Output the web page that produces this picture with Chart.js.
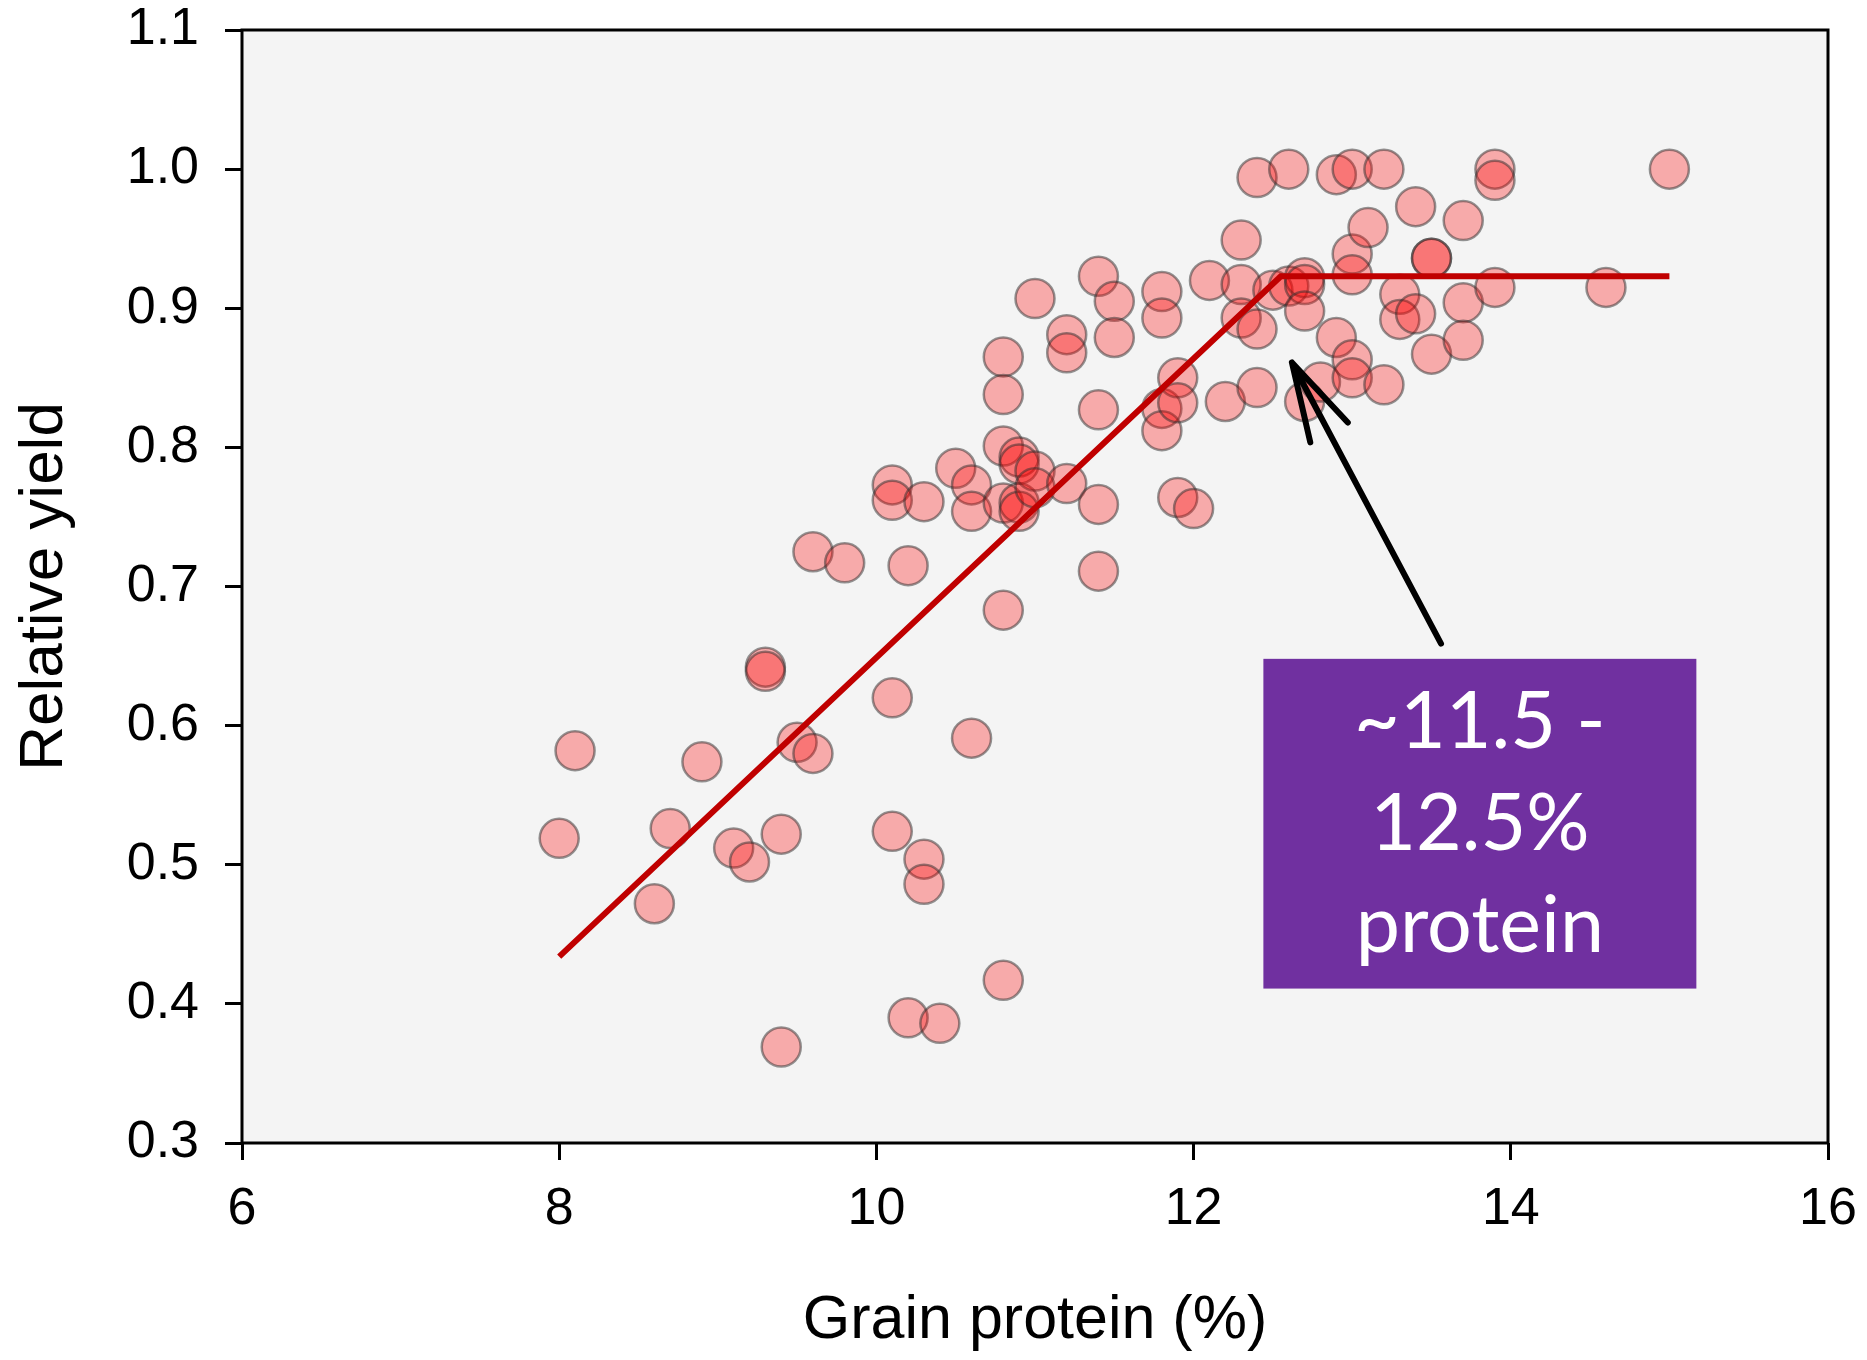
<!DOCTYPE html>
<html>
<head>
<meta charset="utf-8">
<title>Relative yield vs grain protein</title>
<script src="https://cdn.jsdelivr.net/npm/chart.js@4.4.1/dist/chart.umd.min.js"></script>
<style>
  html, body { margin: 0; padding: 0; background: #ffffff; }
  #wrap { width: 1867px; height: 1360px; }
</style>
</head>
<body>
<div id="wrap"><canvas id="yieldChart" width="1867" height="1360"></canvas></div>
<script>
// ===============================
//     DATOS
// ===============================
const proteinX = [
  8.0, 8.1, 8.6, 8.7, 8.9, 9.1, 9.2, 9.3, 9.3, 9.4,
  9.5, 9.6, 9.4, 9.6, 9.8, 10.1, 10.1, 10.1, 10.1, 10.2,
  10.2, 10.3, 10.3, 10.3, 10.4, 10.5, 10.6, 10.6, 10.6, 10.8,
  10.8, 10.8, 10.8, 10.8, 10.8, 10.9, 10.9, 10.9, 10.9, 11.0,
  11.0, 11.0, 11.2, 11.2, 11.2, 11.4, 11.4, 11.4, 11.4, 11.5,
  11.5, 11.8, 11.8, 11.8, 11.8, 11.9, 11.9, 11.9, 12.0, 12.1,
  12.2, 12.3, 12.3, 12.3, 12.4, 12.4, 12.4, 12.5, 12.6, 12.6,
  12.7, 12.7, 12.7, 12.7, 12.8, 12.9, 12.9, 13.0, 13.0, 13.0,
  13.0, 13.0, 13.1, 13.2, 13.2, 13.3, 13.3, 13.4, 13.4, 13.5,
  13.5, 13.5, 13.7, 13.7, 13.7, 13.9, 13.9, 13.9, 14.6, 15.0
];
const relYield = [
  0.519, 0.582, 0.472, 0.526, 0.574, 0.512, 0.502, 0.642, 0.639, 0.522,
  0.588, 0.580, 0.369, 0.725, 0.717, 0.620, 0.524, 0.773, 0.762, 0.715,
  0.390, 0.761, 0.504, 0.486, 0.386, 0.785, 0.773, 0.754, 0.591, 0.865,
  0.838, 0.801, 0.760, 0.683, 0.417, 0.793, 0.788, 0.760, 0.754, 0.907,
  0.783, 0.771, 0.881, 0.868, 0.774, 0.923, 0.827, 0.759, 0.711, 0.905,
  0.879, 0.912, 0.893, 0.828, 0.812, 0.850, 0.832, 0.764, 0.756, 0.920,
  0.833, 0.949, 0.917, 0.893, 0.994, 0.885, 0.843, 0.913, 1.000, 0.916,
  0.922, 0.917, 0.898, 0.833, 0.847, 0.996, 0.879, 1.000, 0.939, 0.924,
  0.863, 0.850, 0.958, 1.000, 0.845, 0.910, 0.892, 0.973, 0.896, 0.936,
  0.936, 0.867, 0.963, 0.904, 0.877, 1.000, 0.992, 0.915, 0.915, 1.000
];

// modelo lineal-plateau
const fitX = [8.0, 12.55, 15.0];
const fitY = [0.434, 0.923, 0.923];

// ejes
const xTicks = [6, 8, 10, 12, 14, 16];
const yTicks = [0.3, 0.4, 0.5, 0.6, 0.7, 0.8, 0.9, 1.0, 1.1];

// nota (flecha + cuadro)
const noteLines = ["~11.5 -", "12.5%", "protein"];
const arrowTip = { x: 12.62, y: 0.861 };
const arrowTail = { x: 13.56, y: 0.659 };
const noteBox = { x0: 12.44, x1: 15.17, y0: 0.648, y1: 0.411 };

const axisFont = "'Liberation Sans', Arial, sans-serif";

// ===============================
//     PLUGINS
// ===============================
const plotBackground = {
  id: "plotBackground",
  beforeDraw(chart) {
    const { ctx, chartArea: a } = chart;
    ctx.save();
    ctx.fillStyle = "#f4f4f4";
    ctx.fillRect(a.left, a.top, a.right - a.left, a.bottom - a.top);
    ctx.restore();
  }
};

const plotFrame = {
  id: "plotFrame",
  afterDatasetsDraw(chart) {
    const { ctx, chartArea: a } = chart;
    ctx.save();
    ctx.strokeStyle = "#000";
    ctx.lineWidth = 3;
    ctx.strokeRect(a.left, a.top, a.right - a.left, a.bottom - a.top);
    ctx.restore();
  }
};

const proteinNote = {
  id: "proteinNote",
  afterDraw(chart) {
    const { ctx } = chart;
    const xs = chart.scales.x, ys = chart.scales.y;

    // flecha
    const tx = xs.getPixelForValue(arrowTip.x), ty = ys.getPixelForValue(arrowTip.y);
    const sx = xs.getPixelForValue(arrowTail.x), sy = ys.getPixelForValue(arrowTail.y);
    const ang = Math.atan2(sy - ty, sx - tx);
    const head = 82, spread = 15 * Math.PI / 180;
    ctx.save();
    ctx.strokeStyle = "#000";
    ctx.lineWidth = 6;
    ctx.lineCap = "round";
    ctx.lineJoin = "round";
    ctx.beginPath();
    ctx.moveTo(sx, sy);
    ctx.lineTo(tx, ty);
    ctx.moveTo(tx + head * Math.cos(ang + spread), ty + head * Math.sin(ang + spread));
    ctx.lineTo(tx, ty);
    ctx.lineTo(tx + head * Math.cos(ang - spread), ty + head * Math.sin(ang - spread));
    ctx.stroke();

    // cuadro morado
    const bx0 = xs.getPixelForValue(noteBox.x0), bx1 = xs.getPixelForValue(noteBox.x1);
    const by0 = ys.getPixelForValue(noteBox.y0), by1 = ys.getPixelForValue(noteBox.y1);
    ctx.fillStyle = "#7030a0";
    ctx.fillRect(bx0, by0, bx1 - bx0, by1 - by0);

    ctx.fillStyle = "#ffffff";
    ctx.font = "79px Lato, 'Open Sans', sans-serif";
    ctx.textAlign = "center";
    ctx.textBaseline = "alphabetic";
    const cx = (bx0 + bx1) / 2;
    noteLines.forEach((line, i) => {
      ctx.fillText(line, cx, by0 + 89 + i * 102);
    });
    ctx.restore();
  }
};

// ===============================
//     GRAFICA
// ===============================
const ctx = document.getElementById("yieldChart").getContext("2d");

new Chart(ctx, {
  type: "scatter",
  data: {
    datasets: [
      {
        label: "Modelo",
        data: fitX.map((x, i) => ({ x, y: fitY[i] })),
        showLine: true,
        borderColor: "#c00000",
        borderWidth: 6,
        pointRadius: 0,
        fill: false,
        order: 0
      },
      {
        label: "Datos",
        data: proteinX.map((x, i) => ({ x, y: relYield[i] })),
        backgroundColor: "rgba(255, 0, 0, 0.3)",
        borderColor: "rgba(45, 45, 45, 0.5)",
        borderWidth: 2.5,
        pointRadius: 19.5,
        order: 1
      }
    ]
  },
  options: {
    responsive: false,
    animation: false,
    layout: { padding: { top: 30, right: 39, left: 0, bottom: 0 } },
    plugins: {
      legend: { display: false },
      tooltip: { enabled: false }
    },
    scales: {
      x: {
        type: "linear",
        min: 6,
        max: 16,
        afterFit(scale) {
          scale.height = 217;
          scale.paddingLeft = 0;
          scale.paddingRight = 0;
        },
        afterBuildTicks(scale) { scale.ticks = xTicks.map(v => ({ value: v })); },
        border: { display: false },
        grid: {
          drawOnChartArea: false,
          drawTicks: true,
          tickLength: 17,
          tickWidth: 3,
          tickColor: "#000"
        },
        ticks: {
          color: "#000",
          padding: 18,
          maxRotation: 0,
          font: { family: axisFont, size: 52 }
        },
        title: {
          display: true,
          text: "Grain protein (%)",
          color: "#000",
          padding: { top: 0, bottom: 2 },
          font: { family: axisFont, size: 61 }
        }
      },
      y: {
        type: "linear",
        min: 0.3,
        max: 1.1,
        afterFit(scale) {
          scale.width = 242;
          scale.paddingTop = 0;
          scale.paddingBottom = 0;
        },
        afterBuildTicks(scale) { scale.ticks = yTicks.map(v => ({ value: v })); },
        border: { display: false },
        grid: {
          drawOnChartArea: false,
          drawTicks: true,
          tickLength: 17,
          tickWidth: 3,
          tickColor: "#000"
        },
        ticks: {
          color: "#000",
          padding: 26,
          font: { family: axisFont, size: 52 },
          callback: v => Number(v).toFixed(1)
        },
        title: {
          display: true,
          text: "Relative yield",
          color: "#000",
          padding: { top: 8, bottom: 0 },
          font: { family: axisFont, size: 62 }
        }
      }
    }
  },
  plugins: [plotBackground, plotFrame, proteinNote]
});
</script>
</body>
</html>
